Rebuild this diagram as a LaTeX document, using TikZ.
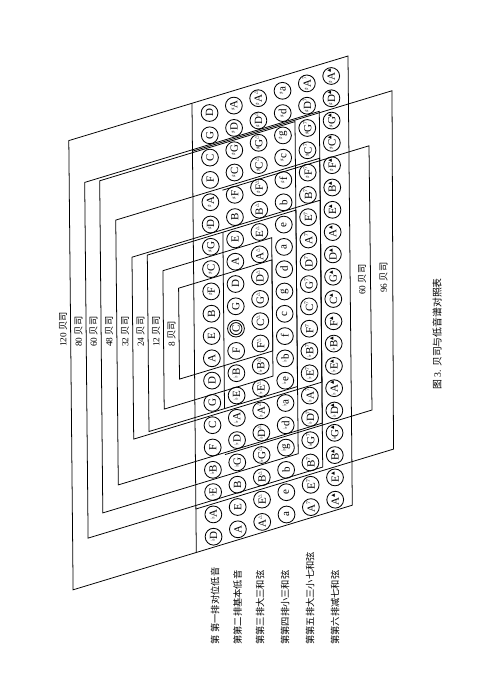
\documentclass[tikz,border=0pt]{standalone}
\usepackage{fontspec}
\setmainfont{Liberation Serif}
\newfontfamily\cjk{Noto Sans CJK SC}
\newfontfamily\symf{DejaVu Sans}
\newcommand{\accS}{\raisebox{0.45ex}{\symf\fontsize{4pt}{4pt}\selectfont ♯}}
\newcommand{\accF}{\raisebox{0.45ex}{\symf\fontsize{4pt}{4pt}\selectfont ♭}}
\newcommand{\mkM}{\raisebox{0.9ex}{\symf\fontsize{3.3pt}{3.3pt}\selectfont △}}
\newcommand{\mkS}{\raisebox{0.9ex}{\fontsize{4pt}{4pt}\selectfont 7}}
\newcommand{\mkD}{\raisebox{0.9ex}{\symf\fontsize{3.3pt}{3.3pt}\selectfont ▲}}
\newcommand{\buttoncol}[3]{%
  \foreach \lab [count=\jj from 0] in {#3}{%
    \pgfmathsetmacro\yy{113+22.3*\jj-7.4*#1}%
    \pgfmathsetmacro\xx{211.5+24.4*#1+0.0095*(\yy-320)}%
    \node[btn] (b-#1-\jj) at (\xx,\yy) {};
    \node[btxt] at (b-#1-\jj) {\lab#2};
  }}
\begin{document}
\begin{tikzpicture}[x=0.025cm,y=-0.025cm,
  ln/.style={line width=0.55pt, line join=miter},
  btn/.style={circle, draw, line width=0.6pt, minimum size=0.42cm, inner sep=0pt},
  btxt/.style={rotate=90, inner sep=0pt, font=\fontsize{7.8pt}{8pt}\selectfont},
  lbl/.style={rotate=90, anchor=west, inner sep=0pt, font=\fontsize{6.6pt}{7pt}\selectfont}]
\useasboundingbox (0,0) rectangle (488,690);

% 120 outline and grid left edge
\draw[ln] (68.8,140.6) -- (348,56) -- (352.3,505.2) -- (73.1,589.8) -- cycle;
\draw[ln] (192,103.3) -- (196.3,552.5);
% 96
\draw[ln] (192.4,151.2) -- (392,90.75) -- (393.5,449.1) -- (195.9,509.0);
% 80
\draw[ln] (84.7,182.4) -- (319.3,111.3) -- (322.7,467.05) -- (88.1,538.1) -- cycle;
% 60 (left)
\draw[ln] (99.7,180.8) -- (295,121.6) -- (298.2,453.7) -- (102.8,512.9) -- cycle;
% 48
\draw[ln] (115.75,220.1) -- (319.8,158.2) -- (322.3,423.1) -- (118.3,484.9) -- cycle;
% 60 (right)
\draw[ln] (222.5,190.2) -- (369,145.8) -- (372,410) -- (225,454.6);
% 32
\draw[ln] (132,257.2) -- (320.2,200.2) -- (321.9,382.1) -- (133.7,439.1) -- cycle;
% 24
\draw[ln] (147.3,255.1) -- (295.9,210.1) -- (297.5,386.5) -- (149,431.5) -- cycle;
\draw[ln] (222.9,232.2) -- (224.5,408.6);
% 12
\draw[ln] (162.9,270.7) -- (271.7,237.7) -- (273,376.1) -- (164.2,409.1) -- cycle;
% 8
\draw[ln] (178.6,288.2) -- (271.9,259.9) -- (272.8,350.9) -- (179.5,379.1) -- cycle;

% buttons
\buttoncol{0}{}{D,G,C,F,\accS A,\accS D,\accS G,\accS C,\accS F,B,E,A,D,G,C,F,\accF B,\accF E,\accF A,\accF D}
\buttoncol{1}{}{\accS A,\accS D,\accS G,\accS C,\accS F,B,E,A,D,G,C,F,\accF B,\accF E,\accF A,\accF D,\accF G,B,E,A}
\buttoncol{2}{\mkM}{\accS A,\accS D,\accS G,\accS C,\accS F,B,E,A,D,G,C,F,\accF B,\accF E,\accF A,\accF D,\accF G,B,E,A}
\buttoncol{3}{}{\accS a,\accS d,\accS g,\accS c,\accS f,b,e,a,d,g,c,f,\accF b,\accF e,\accF a,\accF d,\accF g,b,e,a}
\buttoncol{4}{\mkS}{\accS A,\accS D,\accS G,\accS C,\accS F,B,E,A,D,G,C,F,\accF B,\accF E,\accF A,\accF D,\accF G,B,E,A}
\buttoncol{5}{\mkD}{\accS A,\accS D,\accS G,\accS C,\accS F,B,E,A,D,G,C,F,\accF B,\accF E,\accF A,\accF D,\accF G,B,E,A}
\node[btn, minimum size=0.3cm] (cin) at (b-1-10) {};

% bass-count labels
\node[lbl] (t120) at (63,347) {120 {\cjk 贝司}};
\node[lbl] (t80) at (78.5,347) {80 {\cjk 贝司}};
\node[lbl] (t60a) at (93.5,347) {60 {\cjk 贝司}};
\node[lbl] (t48) at (109,347) {48 {\cjk 贝司}};
\node[lbl] (t32) at (125,347) {32 {\cjk 贝司}};
\node[lbl] (t24) at (140.5,347) {24 {\cjk 贝司}};
\node[lbl] (t12) at (156,347) {12 {\cjk 贝司}};
\node[lbl] (t8) at (171.5,347) {8 {\cjk 贝司}};
\node[lbl] (t60b) at (362,295) {60 {\cjk 贝司}};
\node[lbl] (t96) at (383.5,293) {96 {\cjk 贝司}};

% row labels
\node[lbl,font=\cjk\fontsize{6.6pt}{7pt}\selectfont] (r1) at (215,645) {第\hspace{2pt}第一排对位低音};
\node[lbl,font=\cjk\fontsize{6.6pt}{7pt}\selectfont] (r2) at (237.5,645) {第第二排基本低音};
\node[lbl,font=\cjk\fontsize{6.6pt}{7pt}\selectfont] (r3) at (260,645) {第第三排大三和弦};
\node[lbl,font=\cjk\fontsize{6.6pt}{7pt}\selectfont] (r4) at (285,645) {第第四排小三和弦};
\node[lbl,font=\cjk\fontsize{6.6pt}{7pt}\selectfont] (r5) at (310,645) {第第五排大三小七和弦};
\node[lbl,font=\cjk\fontsize{6.6pt}{7pt}\selectfont] (r6) at (335,645) {第第六排减七和弦};

% caption
\node[lbl,font=\fontsize{7pt}{8pt}\selectfont] (cap) at (437,390) {{\cjk 图} 3. {\cjk 贝司与低音谱对照表}};
\end{tikzpicture}
\end{document}
